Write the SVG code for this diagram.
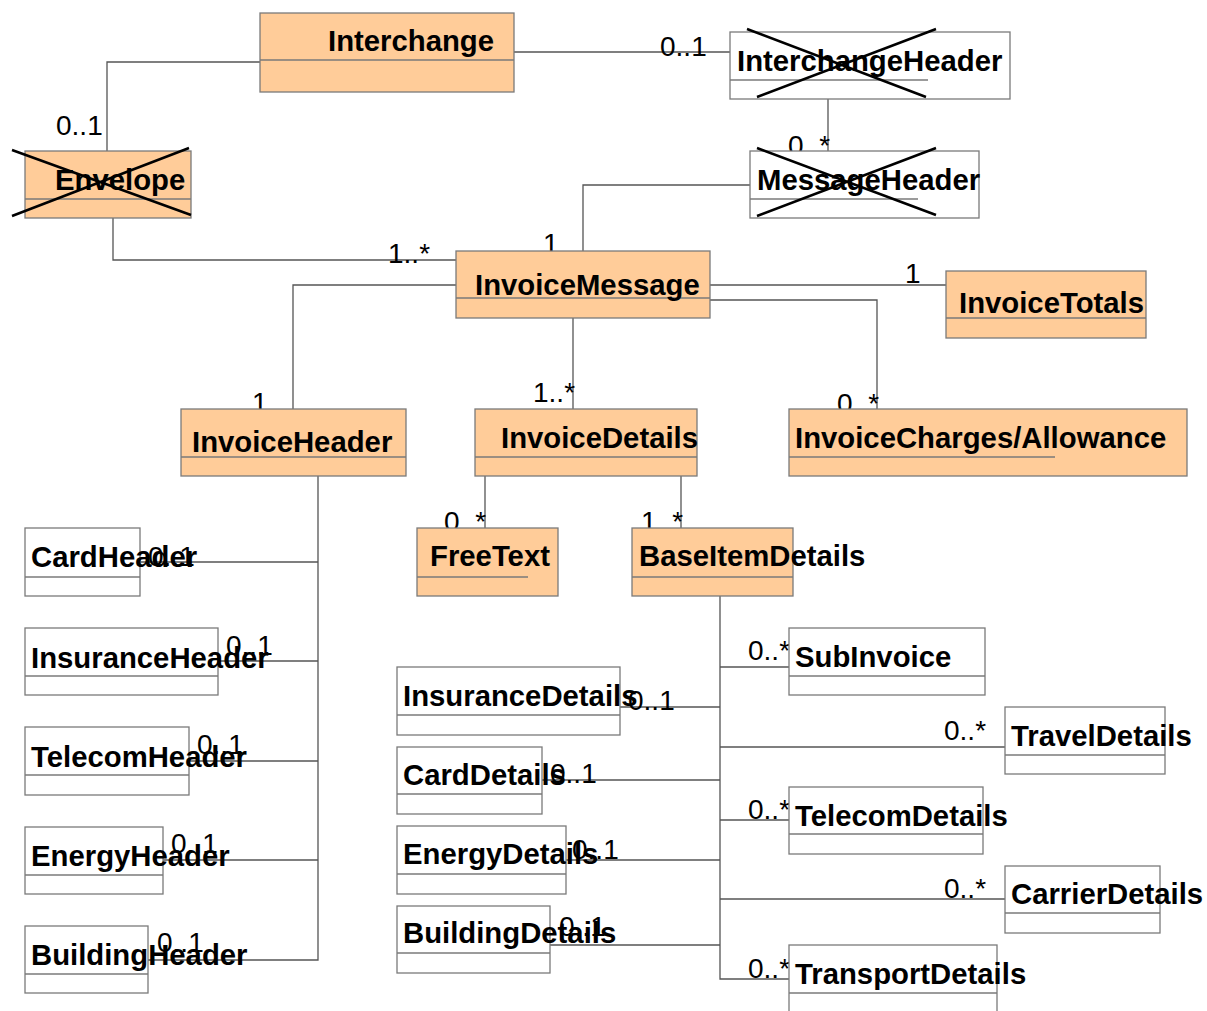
<svg xmlns="http://www.w3.org/2000/svg" width="1207" height="1011" viewBox="0 0 1207 1011">
<style>
.o{fill:#FFCC99;stroke:#7a7a7a;stroke-width:1.3}
.w{fill:#FFFFFF;stroke:#7a7a7a;stroke-width:1.3}
.d{stroke:#7a7a7a;stroke-width:1.3;fill:none}
.x{stroke:#000;stroke-width:2.5;fill:none}
.c path{stroke:#555;stroke-width:1.3;fill:none}
.n{font-family:"Liberation Sans",Arial,sans-serif;font-weight:bold;font-size:29.3px;fill:#000}
.m{font-family:"Liberation Sans",Arial,sans-serif;font-size:28px;fill:#000}
</style>
<rect width="1207" height="1011" fill="#fff"/>
<g class="c" id="connectors">
<path d="M260,62 H107 V151"/>
<path d="M514,52 H730"/>
<path d="M828,99 V151"/>
<path d="M750,185 H583 V251"/>
<path d="M113,218 V260 H456"/>
<path d="M710,285 H946"/>
<path d="M710,300 H877 V409"/>
<path d="M456,285 H293 V409"/>
<path d="M573,318 V409"/>
<path d="M485,476 V528"/>
<path d="M681,476 V528"/>
<path d="M318,476 V960 H148"/>
<path d="M140,562 H318"/>
<path d="M218,661 H318"/>
<path d="M189,761 H318"/>
<path d="M163,860 H318"/>
<path d="M720,596 V979 H789"/>
<path d="M620,707 H720"/>
<path d="M542,780 H720"/>
<path d="M566,860 H720"/>
<path d="M550,945 H720"/>
<path d="M720,667 H789"/>
<path d="M720,747 H1005"/>
<path d="M720,820 H789"/>
<path d="M720,899 H1005"/>
</g>
<g id="labels">
<text class="m" x="56" y="135">0..1</text>
<text class="m" x="660" y="56">0..1</text>
<text class="m" x="788" y="155">0..*</text>
<text class="m" x="543" y="253">1</text>
<text class="m" x="388" y="263">1..*</text>
<text class="m" x="905" y="283">1</text>
<text class="m" x="837" y="413">0..*</text>
<text class="m" x="252" y="412">1</text>
<text class="m" x="533" y="402">1..*</text>
<text class="m" x="444" y="531">0..*</text>
<text class="m" x="641" y="531">1..*</text>
<text class="m" x="148" y="566">0..1</text>
<text class="m" x="226" y="655">0..1</text>
<text class="m" x="197" y="754">0..1</text>
<text class="m" x="171" y="853">0..1</text>
<text class="m" x="157" y="952">0..1</text>
<text class="m" x="628" y="710">0..1</text>
<text class="m" x="550" y="783">0..1</text>
<text class="m" x="572" y="859">0..1</text>
<text class="m" x="559" y="936">0..1</text>
<text class="m" x="748" y="660">0..*</text>
<text class="m" x="944" y="740">0..*</text>
<text class="m" x="748" y="819">0..*</text>
<text class="m" x="944" y="898">0..*</text>
<text class="m" x="748" y="978">0..*</text>
</g>
<g id="Interchange">
<rect class="o" x="260" y="13" width="254" height="79"/>
<path class="d" d="M260,60 H514"/>
<text class="n" x="328" y="51">Interchange</text>
</g>
<g id="Envelope">
<rect class="o" x="25" y="151" width="166" height="67"/>
<path class="d" d="M25,199 H191"/>
<text class="n" x="55" y="190">Envelope</text>
<path class="x" d="M12,150 L191,215 M12,216 L189,148"/>
</g>
<g id="InterchangeHeader">
<rect class="w" x="730" y="32" width="280" height="67"/>
<path class="d" d="M730,80 H928"/>
<text class="n" x="737" y="71">InterchangeHeader</text>
<path class="x" d="M747,29 L926,97 M757,97 L936,29"/>
</g>
<g id="MessageHeader">
<rect class="w" x="750" y="151" width="229" height="67"/>
<path class="d" d="M750,199 H918"/>
<text class="n" x="757" y="190">MessageHeader</text>
<path class="x" d="M757,148 L936,215 M757,216 L936,148"/>
</g>
<g id="InvoiceMessage">
<rect class="o" x="456" y="251" width="254" height="67"/>
<path class="d" d="M456,298 H710"/>
<text class="n" x="475" y="295">InvoiceMessage</text>
</g>
<g id="InvoiceTotals">
<rect class="o" x="946" y="271" width="200" height="67"/>
<path class="d" d="M946,318 H1146"/>
<text class="n" x="959" y="313">InvoiceTotals</text>
</g>
<g id="InvoiceHeader">
<rect class="o" x="181" y="409" width="225" height="67"/>
<path class="d" d="M181,457 H406"/>
<text class="n" x="192" y="452">InvoiceHeader</text>
</g>
<g id="InvoiceDetails">
<rect class="o" x="475" y="409" width="222" height="67"/>
<path class="d" d="M475,457 H697"/>
<text class="n" x="501" y="448">InvoiceDetails</text>
</g>
<g id="InvoiceChargesAllowance">
<rect class="o" x="789" y="409" width="398" height="67"/>
<path class="d" d="M789,457 H1055"/>
<text class="n" x="795" y="448">InvoiceCharges/Allowance</text>
</g>
<g id="FreeText">
<rect class="o" x="417" y="528" width="141" height="68"/>
<path class="d" d="M417,577 H528"/>
<text class="n" x="430" y="566">FreeText</text>
</g>
<g id="BaseItemDetails">
<rect class="o" x="632" y="528" width="161" height="68"/>
<path class="d" d="M632,577 H793"/>
<text class="n" x="639" y="566">BaseItemDetails</text>
</g>
<g id="CardHeader">
<rect class="w" x="25" y="528" width="115" height="68"/>
<path class="d" d="M25,577 H140"/>
<text class="n" x="31" y="567">CardHeader</text>
</g>
<g id="InsuranceHeader">
<rect class="w" x="25" y="628" width="193" height="67"/>
<path class="d" d="M25,676 H218"/>
<text class="n" x="31" y="668">InsuranceHeader</text>
</g>
<g id="TelecomHeader">
<rect class="w" x="25" y="727" width="164" height="68"/>
<path class="d" d="M25,775 H189"/>
<text class="n" x="31" y="767">TelecomHeader</text>
</g>
<g id="EnergyHeader">
<rect class="w" x="25" y="827" width="138" height="67"/>
<path class="d" d="M25,875 H163"/>
<text class="n" x="31" y="866">EnergyHeader</text>
</g>
<g id="BuildingHeader">
<rect class="w" x="25" y="926" width="123" height="67"/>
<path class="d" d="M25,974 H148"/>
<text class="n" x="31" y="965">BuildingHeader</text>
</g>
<g id="InsuranceDetails">
<rect class="w" x="397" y="667" width="223" height="68"/>
<path class="d" d="M397,715 H620"/>
<text class="n" x="403" y="706">InsuranceDetails</text>
</g>
<g id="CardDetails">
<rect class="w" x="397" y="747" width="145" height="67"/>
<path class="d" d="M397,794 H542"/>
<text class="n" x="403" y="785">CardDetails</text>
</g>
<g id="EnergyDetails">
<rect class="w" x="397" y="826" width="169" height="68"/>
<path class="d" d="M397,874 H566"/>
<text class="n" x="403" y="864">EnergyDetails</text>
</g>
<g id="BuildingDetails">
<rect class="w" x="397" y="906" width="153" height="67"/>
<path class="d" d="M397,953 H550"/>
<text class="n" x="403" y="943">BuildingDetails</text>
</g>
<g id="SubInvoice">
<rect class="w" x="789" y="628" width="196" height="67"/>
<path class="d" d="M789,676 H985"/>
<text class="n" x="795" y="667">SubInvoice</text>
</g>
<g id="TravelDetails">
<rect class="w" x="1005" y="707" width="160" height="67"/>
<path class="d" d="M1005,755 H1165"/>
<text class="n" x="1011" y="746">TravelDetails</text>
</g>
<g id="TelecomDetails">
<rect class="w" x="789" y="787" width="194" height="67"/>
<path class="d" d="M789,834 H983"/>
<text class="n" x="795" y="826">TelecomDetails</text>
</g>
<g id="CarrierDetails">
<rect class="w" x="1005" y="866" width="155" height="67"/>
<path class="d" d="M1005,913 H1160"/>
<text class="n" x="1011" y="904">CarrierDetails</text>
</g>
<g id="TransportDetails">
<rect class="w" x="789" y="945" width="208" height="68"/>
<path class="d" d="M789,993 H997"/>
<text class="n" x="795" y="984">TransportDetails</text>
</g>
</svg>
